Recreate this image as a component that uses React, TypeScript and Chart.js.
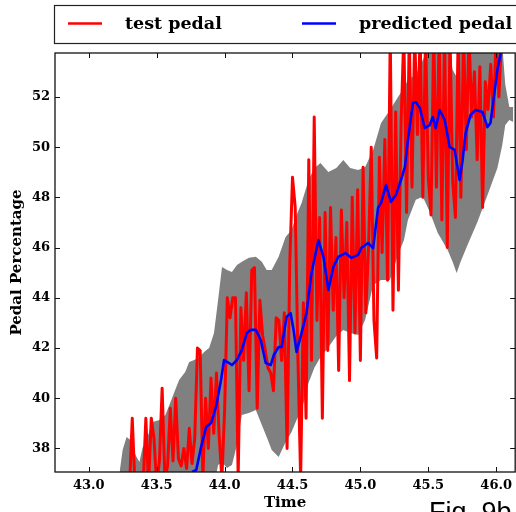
import React, { useEffect, useRef } from "react";
import { Chart, registerables } from "chart.js";

Chart.register(...registerables);

// ---- axes ----
const xTicks = [43.0, 43.5, 44.0, 44.5, 45.0, 45.5, 46.0];
const yTicks = [38, 40, 42, 44, 46, 48, 50, 52];
const xMin = 42.751;
const xMax = 46.14;
const yMin = 37.06;
const yMax = 53.75;

// ---- test pedal (sampled every 0.02 s from 43.24) ----
const testStart = 43.24;
const testStep = 0.02;
const testValues = [
  36.5, 36.5, 36.5, 36.5, 39.2, 36.5, 36.5, 36.5, 36.5, 39.2,
  36.5, 39.2, 38.4, 36.5, 37.5, 40.4, 36.8, 37.3, 39.6, 37.5,
  40.0, 37.6, 37.3, 38.0, 37.2, 38.8, 37.4, 38.4, 42.0, 41.9,
  36.8, 40.0, 38.0, 40.8, 38.6, 41.0, 38.5, 36.8, 39.5, 44.0,
  43.2, 44.0, 44.0, 36.8, 43.6, 41.5, 44.2, 40.3, 45.1, 45.2,
  39.6, 43.9, 42.5, 41.9, 41.2, 41.0, 40.3, 43.2, 43.1, 41.5,
  43.4, 38.0, 45.4, 48.8, 47.6, 41.6, 36.8, 43.8, 39.2, 49.5,
  41.5, 51.2, 43.1, 47.2, 39.2, 47.4, 41.9, 47.6, 43.5, 46.4,
  41.1, 47.5, 44.0, 47.0, 40.7, 48.0, 42.6, 48.3, 41.5, 49.2,
  43.4, 46.0, 50.0, 43.1, 41.6, 49.6, 45.8, 50.3, 44.7, 54.5,
  43.5, 51.4, 44.3, 51.0, 54.5, 47.4, 54.5, 48.4, 54.5, 50.5,
  54.5, 48.0, 54.5, 48.8, 47.3, 54.5, 48.4, 54.5, 47.1, 54.5,
  46.0, 54.5, 48.6, 47.2, 54.5, 48.0, 54.5, 49.9, 54.5, 51.2,
  53.0, 49.5, 53.2, 47.6, 52.6, 51.5, 53.3, 51.2, 54.5, 52.0,
  54.5, 54.5, 54.5, 54.5, 54.5, 54.5,
];

// ---- predicted pedal ----
const predTime = [
  43.761, 43.791, 43.827, 43.864, 43.9, 43.937, 43.974, 43.996, 44.033, 44.054,
  44.091, 44.127, 44.164, 44.193, 44.23, 44.266, 44.303, 44.34, 44.362, 44.398,
  44.42, 44.457, 44.486, 44.508, 44.53, 44.567, 44.603, 44.64, 44.691, 44.728,
  44.764, 44.801, 44.837, 44.889, 44.933, 44.984, 45.006, 45.057, 45.094, 45.13,
  45.152, 45.189, 45.225, 45.262, 45.299, 45.328, 45.35, 45.387, 45.408, 45.438,
  45.474, 45.511, 45.533, 45.555, 45.584, 45.621, 45.657, 45.694, 45.731, 45.753,
  45.775, 45.811, 45.848, 45.899, 45.936, 45.958, 45.987, 46.009, 46.038,
];
const predValues = [
  37.06, 37.14, 38.06, 38.85, 39.01, 39.65, 40.73, 41.52, 41.4, 41.32,
  41.52, 41.92, 42.6, 42.72, 42.72, 42.32, 41.4, 41.32, 41.72, 42.04,
  42.04, 43.24, 43.39, 42.72, 41.84, 42.6, 43.39, 44.99, 46.3, 45.63,
  44.31, 45.23, 45.63, 45.78, 45.59, 45.71, 45.98, 46.18, 45.98, 47.58,
  47.78, 48.49, 47.82, 48.1, 48.69, 49.21, 50.29, 51.76, 51.8, 51.56,
  50.76, 50.88, 51.2, 50.76, 51.48, 51.08, 50.01, 49.89, 48.69, 49.49,
  50.57, 51.28, 51.48, 51.4, 50.8, 50.96, 52.16, 53.08, 53.87,
];

// ---- uncertainty band ----
const bandTime = [
  43.227, 43.249, 43.278, 43.307, 43.344, 43.373, 43.395, 43.432, 43.469, 43.52,
  43.564, 43.608, 43.63, 43.666, 43.71, 43.739, 43.776, 43.813, 43.849, 43.886,
  43.922, 43.952, 43.981, 44.018, 44.054, 44.091, 44.127, 44.179, 44.23, 44.274,
  44.31, 44.347, 44.398, 44.449, 44.493, 44.53, 44.567, 44.618, 44.662, 44.706,
  44.764, 44.823, 44.874, 44.925, 44.984, 45.035, 45.094, 45.152, 45.218, 45.277,
  45.321, 45.35, 45.408, 45.46, 45.511, 45.57, 45.643, 45.679, 45.709, 45.738,
  45.789, 45.862, 45.95, 46.009, 46.045, 46.067, 46.097, 46.126,
];
const bandUpper = [
  37.06, 37.94, 38.45, 38.33, 37.74, 37.46, 38.02, 38.45, 39.05, 39.13,
  39.33, 39.93, 40.25, 40.73, 41.04, 41.44, 41.52, 41.63, 41.84, 42.0,
  42.6, 43.91, 45.23, 45.11, 45.03, 45.31, 45.43, 45.59, 45.63, 45.43,
  45.11, 45.11, 45.63, 46.42, 46.7, 47.3, 47.78, 48.69, 49.17, 49.37,
  49.01, 49.17, 49.49, 49.17, 49.09, 49.21, 49.89, 50.96, 51.48, 52.0,
  52.36, 52.68, 52.88, 53.47, 54.07, 54.27, 54.27, 53.08, 52.8, 54.27,
  54.27, 54.27, 54.27, 54.27, 54.07, 52.5, 51.6, 51.6,
];
const bandLower = [
  36.5, 36.5, 36.5, 36.5, 36.5, 36.5, 36.5, 36.5, 36.5, 36.5,
  36.5, 36.5, 36.5, 36.5, 36.5, 36.5, 36.5, 36.5, 36.5, 36.5,
  36.5, 37.34, 37.46, 37.22, 37.34, 38.14, 39.33, 39.41, 39.53, 38.93,
  38.45, 37.94, 37.66, 38.25, 38.65, 39.13, 39.53, 40.61, 41.22, 41.63,
  42.03, 42.48, 42.72, 42.6, 42.52, 43.12, 44.51, 44.71, 44.71, 45.71,
  46.3, 47.1, 47.9, 48.02, 47.42, 46.58, 45.9, 45.43, 44.99, 45.43,
  46.1, 47.02, 48.29, 49.17, 50.09, 50.88, 51.08, 51.0,
];

const SERIF = "'DejaVu Serif', serif";

const framePlugin = {
  id: "frameAndLegend",
  afterDraw(chart: any) {
    const { ctx, chartArea: a, scales } = chart;
    ctx.save();
    // plot frame
    ctx.strokeStyle = "#111";
    ctx.lineWidth = 1.3;
    ctx.strokeRect(a.left, a.top, a.right - a.left, a.bottom - a.top);
    // inward ticks
    ctx.lineWidth = 1;
    ctx.beginPath();
    for (const v of xTicks) {
      const x = Math.round(scales.x.getPixelForValue(v)) + 0.5;
      ctx.moveTo(x, a.bottom);
      ctx.lineTo(x, a.bottom - 5);
      ctx.moveTo(x, a.top);
      ctx.lineTo(x, a.top + 5);
    }
    for (const v of yTicks) {
      const y = Math.round(scales.y.getPixelForValue(v)) + 0.5;
      ctx.moveTo(a.left, y);
      ctx.lineTo(a.left + 5, y);
      ctx.moveTo(a.right, y);
      ctx.lineTo(a.right - 5, y);
    }
    ctx.stroke();

    // legend box
    ctx.lineWidth = 1.2;
    ctx.strokeStyle = "#222";
    ctx.strokeRect(54.5, 5.5, chart.width, 38);
    const items = [chart.data.datasets[1], chart.data.datasets[0]];
    const xs = [68, 302];
    ctx.font = `bold 17.5px ${SERIF}`;
    ctx.textBaseline = "middle";
    ctx.fillStyle = "#000";
    items.forEach((ds: any, i: number) => {
      ctx.strokeStyle = ds.borderColor;
      ctx.lineWidth = 2.5;
      ctx.beginPath();
      ctx.moveTo(xs[i], 23.5);
      ctx.lineTo(xs[i] + 34, 23.5);
      ctx.stroke();
      ctx.fillText(ds.label, xs[i] + 57, 24);
    });
    ctx.restore();
  },
};

export default function App() {
  const ref = useRef<HTMLCanvasElement>(null);

  useEffect(() => {
    const testData = testValues.map((v, i) => ({ x: testStart + i * testStep, y: v }));
    const predData = predTime.map((t, i) => ({ x: t, y: predValues[i] }));
    const upData = bandTime.map((t, i) => ({ x: t, y: bandUpper[i] }));
    const loData = bandTime.map((t, i) => ({ x: t, y: bandLower[i] }));
    const tickFont = { family: SERIF, size: 13, weight: "bold" as const };
    const chart = new Chart(ref.current!, {
      type: "line",
      data: {
        datasets: [
          {
            label: "predicted pedal",
            data: predData,
            borderColor: "#0000ff",
            borderWidth: 2.6,
            pointRadius: 0,
            fill: false,
            tension: 0,
            borderJoinStyle: "round",
            order: 0,
          },
          {
            label: "test pedal",
            data: testData,
            borderColor: "#ff0000",
            borderWidth: 3,
            pointRadius: 0,
            fill: false,
            borderJoinStyle: "round",
            order: 1,
          },
          {
            label: "upper",
            data: upData,
            borderWidth: 0,
            borderColor: "rgba(0,0,0,0)",
            backgroundColor: "#808080",
            pointRadius: 0,
            fill: "+1",
            order: 2,
          },
          {
            label: "lower",
            data: loData,
            borderWidth: 0,
            borderColor: "rgba(0,0,0,0)",
            pointRadius: 0,
            fill: false,
            order: 3,
          },
        ],
      },
      options: {
        responsive: false,
        maintainAspectRatio: false,
        animation: false,
        events: [],
        layout: { padding: { top: 53, left: 0, right: 0, bottom: 0 } },
        plugins: { legend: { display: false }, tooltip: { enabled: false } },
        scales: {
          x: {
            type: "linear",
            min: xMin,
            max: xMax,
            afterBuildTicks: (s: any) => {
              s.ticks = xTicks.map((v) => ({ value: v }));
            },
            afterFit: (s: any) => {
              s.height = 40;
            },
            grid: { display: false, drawTicks: false },
            border: { display: false },
            ticks: {
              font: tickFont,
              color: "#000",
              padding: 6,
              maxRotation: 0,
              autoSkip: false,
              callback: (v: any) => Number(v).toFixed(1),
            },
            title: {
              display: true,
              text: "Time",
              color: "#000",
              font: { family: SERIF, size: 15, weight: "bold" },
              padding: { top: 0, bottom: 0 },
            },
          },
          y: {
            type: "linear",
            min: yMin,
            max: yMax,
            afterBuildTicks: (s: any) => {
              s.ticks = yTicks.map((v) => ({ value: v }));
            },
            afterFit: (s: any) => {
              s.width = 55;
            },
            grid: { display: false, drawTicks: false },
            border: { display: false },
            ticks: {
              font: tickFont,
              color: "#000",
              padding: 5,
              autoSkip: false,
              callback: (v: any) => String(v),
            },
            title: {
              display: true,
              text: "Pedal Percentage",
              color: "#000",
              font: { family: SERIF, size: 15, weight: "bold" },
              padding: { top: 8, bottom: 0 },
            },
          },
        },
      },
      plugins: [framePlugin],
    });
    return () => chart.destroy();
  }, []);

  return (
    <div
      style={{
        position: "absolute",
        left: 0,
        top: 0,
        width: 516,
        height: 512,
        overflow: "hidden",
        background: "#fff",
      }}
    >
      <canvas ref={ref} width={518} height={512} style={{ display: "block", width: 518, height: 512 }} />
      <div
        style={{
          position: "absolute",
          left: 429,
          top: 499,
          fontFamily: "'Liberation Sans', Arial, sans-serif",
          fontSize: 27,
          lineHeight: "27px",
          color: "#000",
          whiteSpace: "nowrap",
        }}
      >
        Fig. 9b
      </div>
    </div>
  );
}
